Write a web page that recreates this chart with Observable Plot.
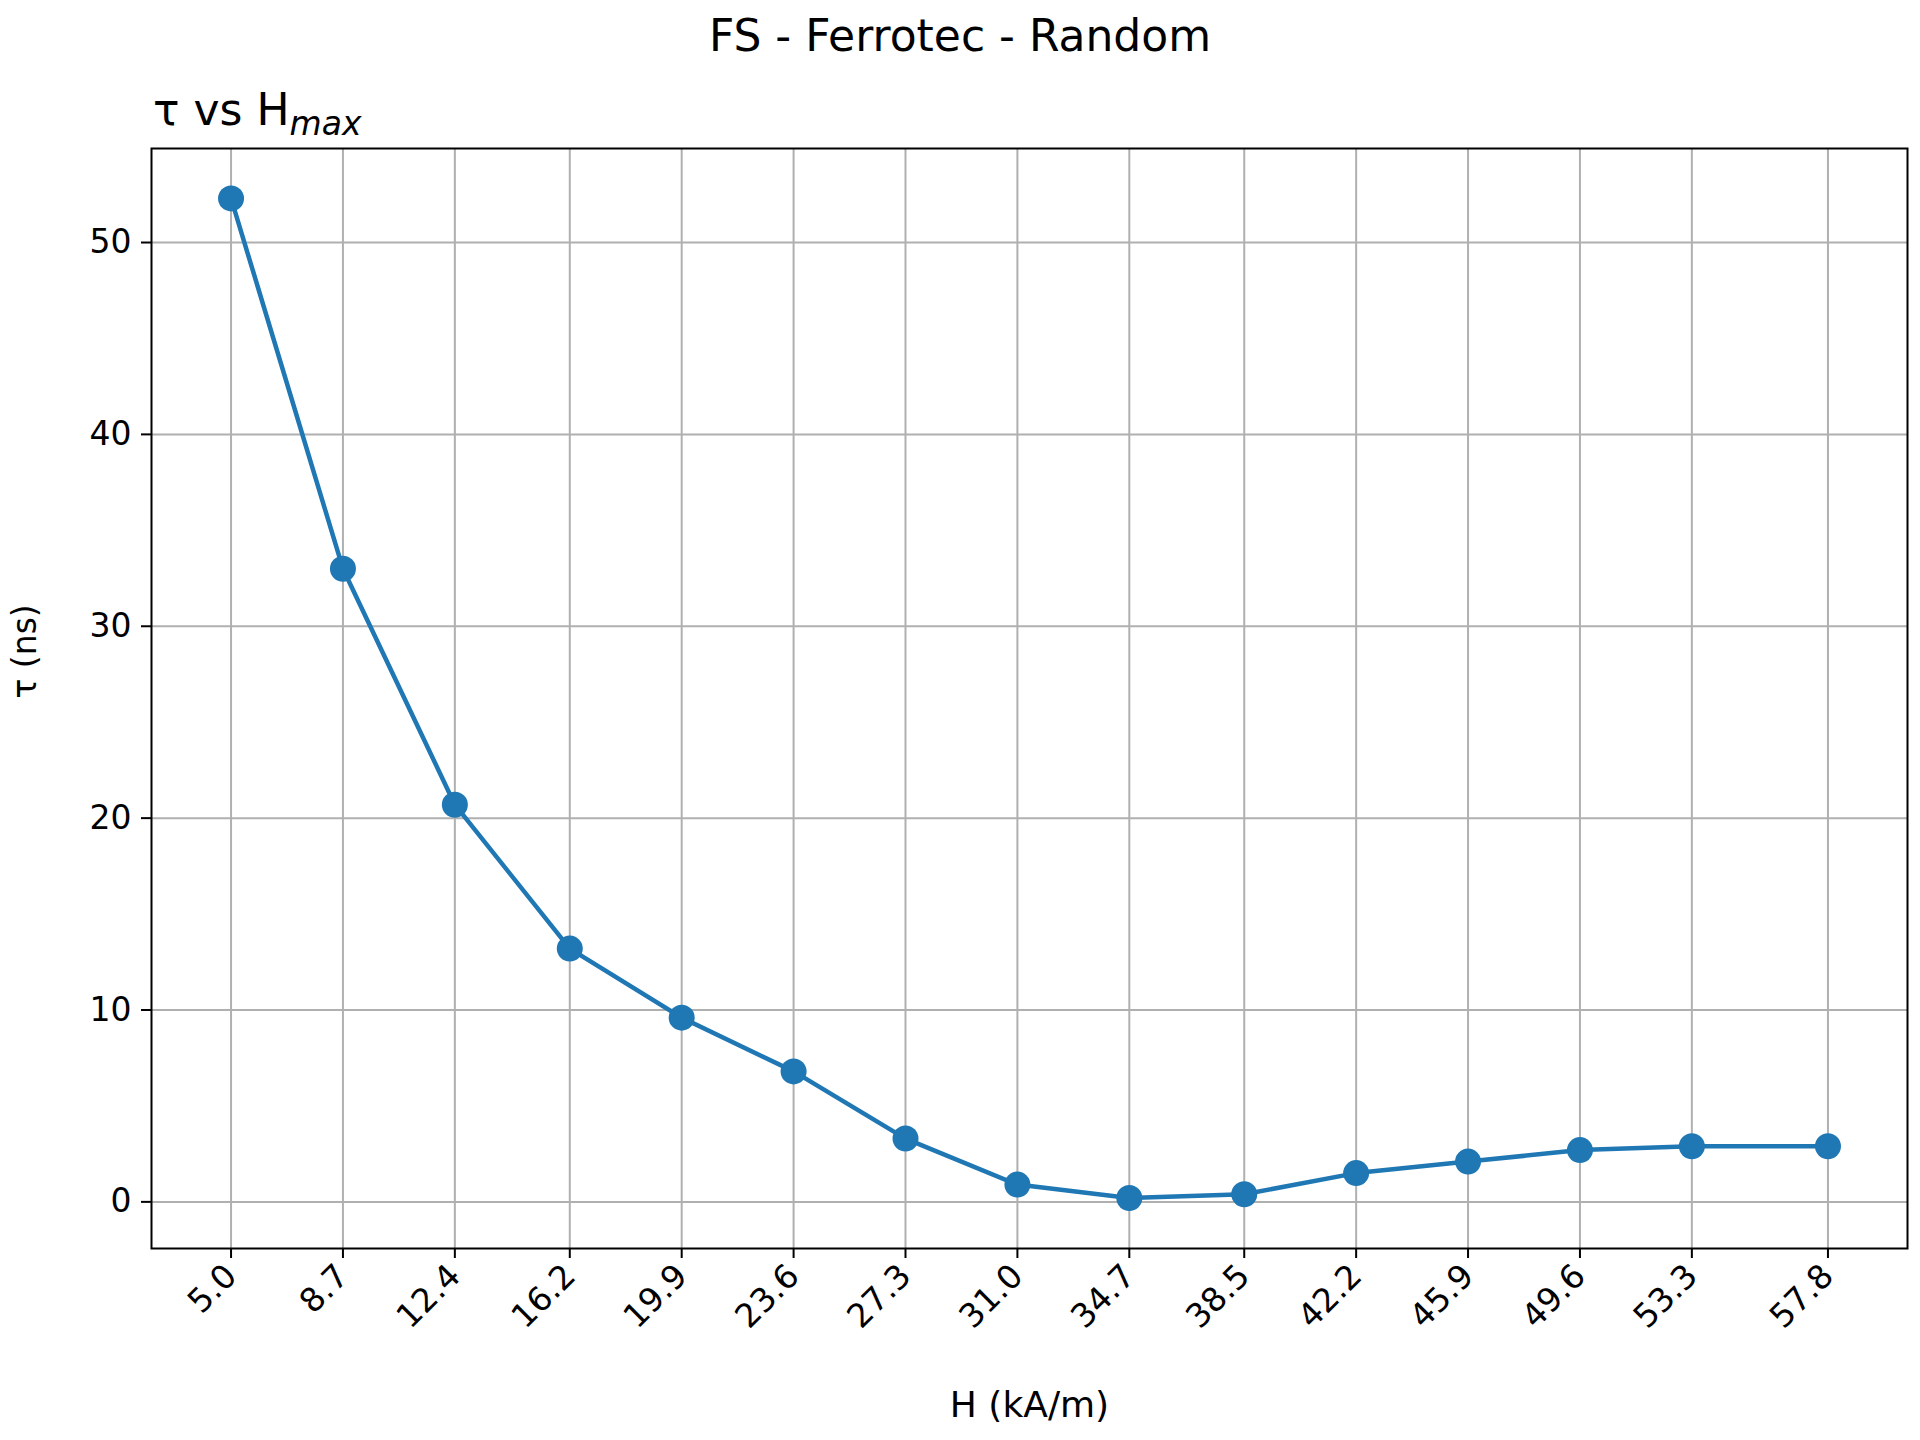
<!DOCTYPE html>
<html>
<head>
<meta charset="utf-8">
<script src="https://cdn.jsdelivr.net/npm/d3@7"></script>
<script src="https://cdn.jsdelivr.net/npm/@observablehq/plot@0.6"></script>
<style>
  body { margin: 0; background: #fff; font-family: "DejaVu Sans", sans-serif; }
  #wrap { width: 1920px; height: 1440px; position: relative; }
  #title { position: absolute; top: 10px; left: 0; width: 1920px; text-align: center; font-size: 44px; }
  #sub { position: absolute; top: 84px; left: 153px; font-size: 44px; }
  #chart { position: absolute; top: 140px; left: 0; }
</style>
</head>
<body>
<div id="wrap">
  <div id="title">FS - Ferrotec - Random</div>
  <div id="sub">τ vs H<sub style="font-style:italic;font-size:33px">max</sub></div>
  <div id="chart"></div>
</div>
<script>
// field amplitude (kA/m) and relaxation time (ns)
const hField = [5.0, 8.7, 12.4, 16.2, 19.9, 23.6, 27.3, 31.0, 34.7, 38.5, 42.2, 45.9, 49.6, 53.3, 57.8];
const tau = [52.3, 33.0, 20.7, 13.2, 9.6, 6.8, 3.3, 0.9, 0.2, 0.4, 1.5, 2.1, 2.7, 2.9, 2.9];
const yTicks = [0, 10, 20, 30, 40, 50];

const data = hField.map((h, i) => ({ h, t: tau[i] }));
const blue = "#1f77b4";

const plot = Plot.plot({
  width: 1920,
  height: 1300,
  marginLeft: 151,
  marginRight: 13,
  marginTop: 8,
  marginBottom: 192,
  style: { fontFamily: "DejaVu Sans", fontSize: "33px", color: "#000" },
  x: { domain: [2.37, 60.43], label: null },
  y: { domain: [-2.43, 54.9], label: null },
  marks: [
    Plot.gridX(hField, { stroke: "#b0b0b0", strokeOpacity: 1, strokeWidth: 2 }),
    Plot.gridY(yTicks, { stroke: "#b0b0b0", strokeOpacity: 1, strokeWidth: 2 }),
    Plot.axisX(hField, { tickFormat: d => d.toFixed(1), tickRotate: -45, tickSize: 10, strokeWidth: 2, tickPadding: 12, fontSize: 33, label: null, textAnchor: "end" }),
    Plot.axisY(yTicks, { tickSize: 10, strokeWidth: 2, tickPadding: 10, fontSize: 33, label: null }),
    Plot.frame({ stroke: "#000", strokeWidth: 2 }),
    Plot.line(data, { x: "h", y: "t", stroke: blue, strokeWidth: 4.5 }),
    Plot.dot(data, { x: "h", y: "t", fill: blue, r: 13 }),
    Plot.text(["H (kA/m)"], { frameAnchor: "bottom", dy: 168, fontSize: 36 }),
    Plot.text(["τ (ns)"], { frameAnchor: "left", dx: -126, rotate: -90, fontSize: 33 })
  ]
});
document.getElementById("chart").appendChild(plot);
</script>
</body>
</html>
